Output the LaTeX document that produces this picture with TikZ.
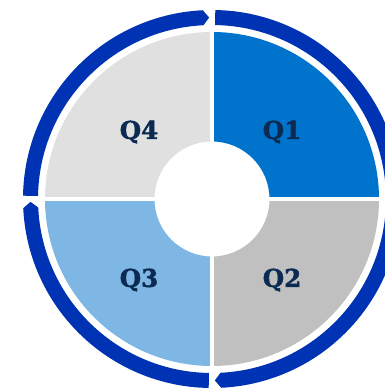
\documentclass[tikz,border=0pt]{standalone}
\usepackage{fontspec}
\newfontfamily\quarterfont[BoldFeatures={FakeBold=1.6}]{DejaVu Serif}
\definecolor{ringblue}{HTML}{0033B4}
\definecolor{qonefill}{HTML}{0074CC}
\definecolor{qtwofill}{HTML}{C0C0C0}
\definecolor{qthreefill}{HTML}{7EB6E4}
\definecolor{qfourfill}{HTML}{E0E0E0}
\definecolor{quartertext}{HTML}{0B2B52}

\begin{document}
\begin{tikzpicture}[x=0.02cm,y=0.02cm,
  quarter/.style={font=\quarterfont\bfseries\fontsize{14}{14}\selectfont,text=quartertext},
  gap/.style={white,line width=0.08cm},
  ring/.style={fill=ringblue}
  ]
    \useasboundingbox (-212,-190) rectangle (173,199);
    \clip (-212,-190) rectangle (173,199);

    % quarters
    \fill[qonefill] (0:57.5) arc[start angle=0,end angle=90,radius=57.5] -- (90:167) arc[start angle=90,end angle=0,radius=167] -- cycle;
    \fill[qfourfill] (90:57.5) arc[start angle=90,end angle=180,radius=57.5] -- (180:167) arc[start angle=180,end angle=90,radius=167] -- cycle;
    \fill[qthreefill] (180:57.5) arc[start angle=180,end angle=270,radius=57.5] -- (270:167) arc[start angle=270,end angle=180,radius=167] -- cycle;
    \fill[qtwofill] (270:57.5) arc[start angle=270,end angle=360,radius=57.5] -- (360:167) arc[start angle=360,end angle=270,radius=167] -- cycle;
    \draw[gap] (0,-170) -- (0,170);
    \draw[gap] (-170,0) -- (170,0);

    % ring arrows, clockwise
    \fill[ring] (89:189) arc[start angle=89,end angle=2.8,radius=189] -- (0.9:181.5) -- (2.8:174) arc[start angle=2.8,end angle=89,radius=174] -- cycle;
    \fill[ring] (-1:189) arc[start angle=-1,end angle=-87.2,radius=189] -- (-89.1:181.5) -- (-87.2:174) arc[start angle=-87.2,end angle=-1,radius=174] -- cycle;
    \fill[ring] (269:189) arc[start angle=269,end angle=182.8,radius=189] -- (180.9:181.5) -- (182.8:174) arc[start angle=182.8,end angle=269,radius=174] -- cycle;
    \fill[ring] (179:189) arc[start angle=179,end angle=92.8,radius=189] -- (90.9:181.5) -- (92.8:174) arc[start angle=92.8,end angle=179,radius=174] -- cycle;

    \node[quarter] (q1) at (70,67) {Q1};
    \node[quarter] (q2) at (70,-81) {Q2};
    \node[quarter] (q3) at (-73,-81) {Q3};
    \node[quarter] (q4) at (-73,67) {Q4};
\end{tikzpicture}
\end{document}
